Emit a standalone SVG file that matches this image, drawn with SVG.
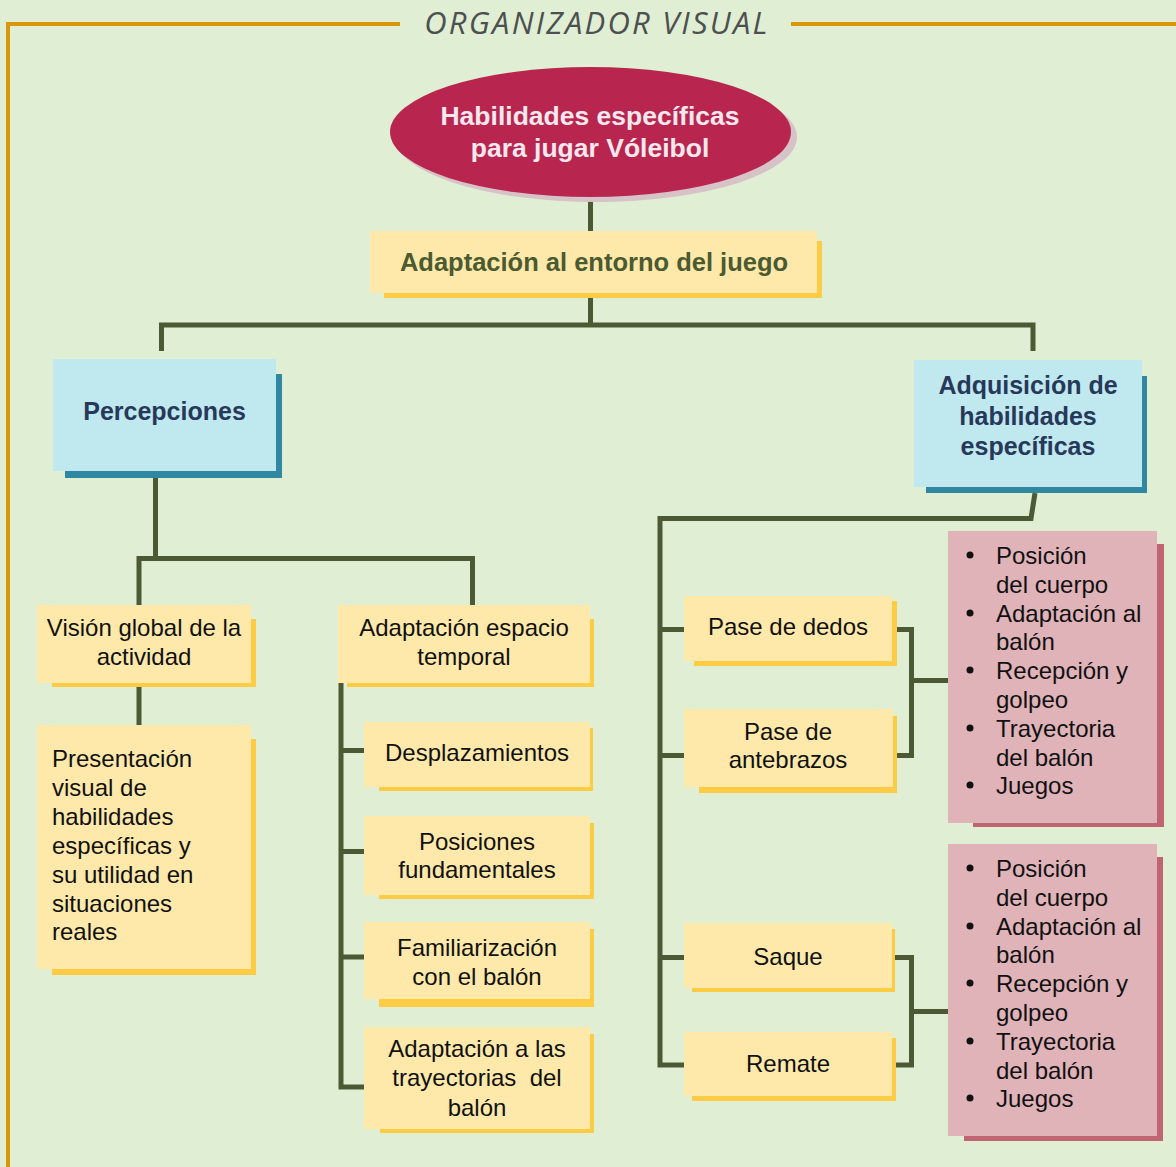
<svg xmlns="http://www.w3.org/2000/svg" width="1176" height="1167" viewBox="0 0 1176 1167">
<style>
.conn{fill:none;stroke:#4B5A34;stroke-width:5;stroke-linejoin:miter;stroke-linecap:butt}
.frame{fill:none;stroke:#D8960A;stroke-width:4}
.yf{fill:#FEE9AA}.ys{fill:#FECB45}
.bf{fill:#C0E8EF}.bs{fill:#2F87A1}
.pf{fill:#E0B3B9}.ps{fill:#BF6470}
.t{font-family:"Liberation Sans",Arial,sans-serif;font-size:24px;fill:#111}
.c{text-anchor:middle}
.tb{font-family:"Liberation Sans",Arial,sans-serif;font-size:25px;font-weight:bold;text-anchor:middle}
.blue{fill:#27395A}
.dot{fill:#111}
.title{font-family:"Open Sans",sans-serif;font-style:italic;font-size:31px;fill:#4D5050;letter-spacing:2.2px;text-anchor:middle}
</style>
<rect x="0" y="0" width="1176" height="1167" fill="#E0EFD3"/>
<g id="frame">
<path class="frame" d="M400 24 H8 V1167"/>
<path class="frame" d="M791 24 H1176"/>
<text class="title" x="597" y="34">ORGANIZADOR VISUAL</text>
</g>
<g id="connectors">
<path class="conn" d="M590.5 197 V231"/>
<path class="conn" d="M590.5 298 V325"/>
<path class="conn" d="M161.5 351 V325 H1033 V351"/>
<path class="conn" d="M155.5 478 V558.5"/>
<path class="conn" d="M139 605 V558.5 H472.5 V605"/>
<path class="conn" d="M139 687 V725"/>
<path class="conn" d="M341 683 V1087 H364"/>
<path class="conn" d="M341 750.5 H364"/>
<path class="conn" d="M341 851.5 H364"/>
<path class="conn" d="M341 957 H364"/>
<path class="conn" d="M1035 493 L1031 518.5 H660 V1065 H684"/>
<path class="conn" d="M660 629.5 H684"/>
<path class="conn" d="M660 755.5 H684"/>
<path class="conn" d="M660 957.5 H684"/>
<path class="conn" d="M897 629.5 H911.5 V755.5 H897"/>
<path class="conn" d="M911.5 680.5 H948"/>
<path class="conn" d="M895 957.5 H911.5 V1065 H895"/>
<path class="conn" d="M911.5 1011.5 H948"/>
</g>
<g id="root">
<ellipse cx="596" cy="137" rx="201" ry="65" fill="#D7C2C7"/>
<ellipse cx="590.5" cy="132" rx="200.5" ry="65" fill="#B8264F"/>
<text class="tb" x="590" y="125" style="font-size:26.5px;fill:#F6E8EE">Habilidades específicas</text>
<text class="tb" x="590" y="157" style="font-size:26.5px;fill:#F6E8EE">para jugar Vóleibol</text>
</g>
<g id="adaptacion-entorno">
<rect class="ys" x="384" y="241" width="438" height="57"/>
<rect class="yf" x="370" y="231" width="447" height="62"/>
<text class="tb" x="594" y="271" style="font-size:25.5px;fill:#4B5A30">Adaptación al entorno del juego</text>
</g>
<g id="percepciones">
<rect class="bs" x="65" y="374" width="217" height="104"/>
<rect class="bf" x="53" y="359" width="223" height="112"/>
<text class="tb blue" x="164.5" y="420">Percepciones</text>
</g>
<g id="adquisicion">
<rect class="bs" x="926" y="376" width="221" height="117"/>
<rect class="bf" x="914" y="360" width="228" height="127"/>
<text class="tb blue" x="1028" y="394">Adquisición de</text>
<text class="tb blue" x="1028" y="425">habilidades</text>
<text class="tb blue" x="1028" y="455">específicas</text>
</g>
<g id="vision-global">
<rect class="ys" x="52" y="619" width="204" height="68"/>
<rect class="yf" x="37" y="605" width="214" height="78"/>
<text class="t c" x="144" y="636">Visión global de la</text>
<text class="t c" x="144" y="665">actividad</text>
</g>
<g id="presentacion">
<rect class="ys" x="52" y="739" width="204" height="236"/>
<rect class="yf" x="37" y="725" width="214" height="244"/>
<text class="t" x="52" y="767">Presentación</text>
<text class="t" x="52" y="796">visual de</text>
<text class="t" x="52" y="825">habilidades</text>
<text class="t" x="52" y="854">específicas y</text>
<text class="t" x="52" y="883">su utilidad en</text>
<text class="t" x="52" y="912">situaciones</text>
<text class="t" x="52" y="940">reales</text>
</g>
<g id="adaptacion-espacio">
<rect class="ys" x="347" y="619" width="247" height="68"/>
<rect class="yf" x="338" y="605" width="252" height="78"/>
<text class="t c" x="464" y="636">Adaptación espacio</text>
<text class="t c" x="464" y="665">temporal</text>
</g>
<g id="desplazamientos">
<rect class="ys" x="379" y="728" width="214" height="63"/>
<rect class="yf" x="364" y="722" width="226" height="65"/>
<text class="t c" x="477" y="761">Desplazamientos</text>
</g>
<g id="posiciones">
<rect class="ys" x="379" y="823" width="215" height="76"/>
<rect class="yf" x="364" y="816" width="226" height="79"/>
<text class="t c" x="477" y="850">Posiciones</text>
<text class="t c" x="477" y="878">fundamentales</text>
</g>
<g id="familiarizacion">
<rect class="ys" x="379" y="929" width="215" height="78"/>
<rect class="yf" x="364" y="922" width="226" height="77"/>
<text class="t c" x="477" y="956">Familiarización</text>
<text class="t c" x="477" y="985">con el balón</text>
</g>
<g id="trayectorias">
<rect class="ys" x="380" y="1034" width="214" height="99"/>
<rect class="yf" x="364" y="1027" width="226" height="102"/>
<text class="t c" x="477" y="1057">Adaptación a las</text>
<text class="t c" x="477" y="1086" xml:space="preserve">trayectorias  del</text>
<text class="t c" x="477" y="1116">balón</text>
</g>
<g id="pase-dedos">
<rect class="ys" x="694" y="601" width="203" height="65"/>
<rect class="yf" x="684" y="596" width="208" height="65"/>
<text class="t c" x="788" y="635">Pase de dedos</text>
</g>
<g id="pase-antebrazos">
<rect class="ys" x="699" y="716" width="198" height="77"/>
<rect class="yf" x="684" y="709" width="209" height="78"/>
<text class="t c" x="788" y="740">Pase de</text>
<text class="t c" x="788" y="768">antebrazos</text>
</g>
<g id="saque">
<rect class="ys" x="692" y="929" width="203" height="63"/>
<rect class="yf" x="684" y="923" width="208" height="65"/>
<text class="t c" x="788" y="965">Saque</text>
</g>
<g id="remate">
<rect class="ys" x="692" y="1038" width="204" height="63"/>
<rect class="yf" x="684" y="1032" width="208" height="64"/>
<text class="t c" x="788" y="1072">Remate</text>
</g>
<g id="lista-pases">
<rect class="ps" x="973" y="544" width="191" height="283"/>
<rect class="pf" x="948" y="531" width="209" height="292"/>
<circle class="dot" cx="970" cy="555" r="3.5"/>
<text class="t" x="996" y="564">Posición</text>
<text class="t" x="996" y="593">del cuerpo</text>
<circle class="dot" cx="970" cy="613" r="3.5"/>
<text class="t" x="996" y="622">Adaptación al</text>
<text class="t" x="996" y="650">balón</text>
<circle class="dot" cx="970" cy="670" r="3.5"/>
<text class="t" x="996" y="679">Recepción y</text>
<text class="t" x="996" y="708">golpeo</text>
<circle class="dot" cx="970" cy="728" r="3.5"/>
<text class="t" x="996" y="737">Trayectoria</text>
<text class="t" x="996" y="766">del balón</text>
<circle class="dot" cx="970" cy="785" r="3.5"/>
<text class="t" x="996" y="794">Juegos</text>
</g>
<g id="lista-saque">
<rect class="ps" x="964" y="857" width="199" height="284"/>
<rect class="pf" x="948" y="844" width="209" height="292"/>
<circle class="dot" cx="970" cy="868" r="3.5"/>
<text class="t" x="996" y="877">Posición</text>
<text class="t" x="996" y="906">del cuerpo</text>
<circle class="dot" cx="970" cy="926" r="3.5"/>
<text class="t" x="996" y="935">Adaptación al</text>
<text class="t" x="996" y="963">balón</text>
<circle class="dot" cx="970" cy="983" r="3.5"/>
<text class="t" x="996" y="992">Recepción y</text>
<text class="t" x="996" y="1021">golpeo</text>
<circle class="dot" cx="970" cy="1041" r="3.5"/>
<text class="t" x="996" y="1050">Trayectoria</text>
<text class="t" x="996" y="1079">del balón</text>
<circle class="dot" cx="970" cy="1098" r="3.5"/>
<text class="t" x="996" y="1107">Juegos</text>
</g>
</svg>
